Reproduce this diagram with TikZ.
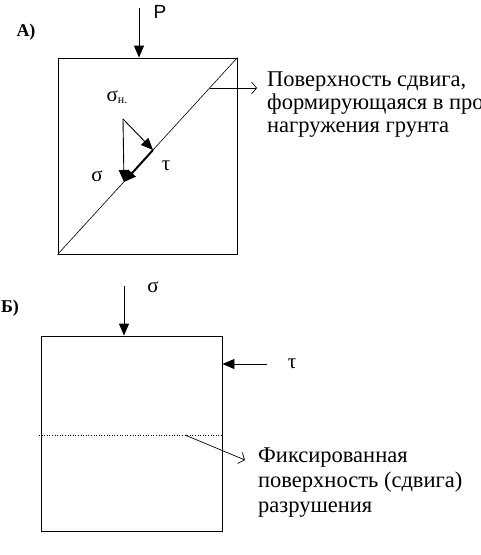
\documentclass[tikz,border=0pt]{standalone}
\usepackage{fontspec}
\setmainfont{Liberation Serif}
\newfontfamily\labelsans{Liberation Sans}
\usetikzlibrary{arrows.meta}

\begin{document}
\begin{tikzpicture}[x=1pt, y=-1pt,
  every node/.style={font=\fontsize{22.5}{23}\selectfont, inner sep=0pt},
  force/.style={-{Triangle[length=12pt,width=10pt]}, line width=0.9pt},
  pointer/.style={-{Straight Barb[length=5pt,width=12pt]}, line width=0.7pt},
  sample/.style={draw, line width=0.9pt},
  greek/.style={font=\fontsize{21}{21}\selectfont},
  partlabel/.style={font=\bfseries\fontsize{18}{20}\selectfont}]

\useasboundingbox (0,0) rectangle (481,555);

% Part A
\node[partlabel] (labA) at (26,32) {А)};
\node[sample, minimum width=179pt, minimum height=196pt] (boxA) at (147.5,156) {};
\draw[line width=0.6pt] (boxA.south west) -- (boxA.north east);

% points on the shear surface
\coordinate (sig) at (124,182);
\coordinate (sn) at (153,150);
\coordinate (hs) at (210,88);
\coordinate (apex) at (123,119);
\coordinate (pTop) at (139,8);
\coordinate (hsEnd) at (257,88);

\draw[force] (pTop) -- (pTop |- boxA.north);
\node[font=\labelsans\fontsize{19}{19}\selectfont] (pLab) at (160,12) {P};

\draw[force] (apex) -- (sig);
\draw[force] (apex) -- (sn);
\draw[force, line width=2pt] (sn) -- (sig);
\node[greek] (snLab) at (117,97) {σ\raisebox{-2pt}{\fontsize{12}{12}\selectfont н.}};
\node[greek] (sigLab) at (97,176) {σ};
\node[greek] (tauLab) at (166,166) {τ};

\draw[pointer] (hs) -- (hsEnd);
% last line sits on the base anchor
\node[anchor=base west, align=left] (textA) at (267,132)
  {Поверхность сдвига,\\формирующаяся в про\\нагружения грунта};

% Part B
\node[partlabel] (labB) at (10,308) {Б)};
\node[sample, minimum width=181pt, minimum height=195pt] (boxB) at (131.5,433.5) {};
\coordinate (sTop) at (124,286);
\coordinate (tRight) at (267,364);
\coordinate (fixL) at (39,435);
\coordinate (fixR) at (boxB.east |- fixL);
\coordinate (fixM) at (185,435);
\coordinate (fixEnd) at (245,460);

\draw[force] (sTop) -- (sTop |- boxB.north);
\node[greek] (sigB) at (153,287) {σ};
\draw[force] (tRight) -- (tRight -| boxB.east);
\node[greek] (tauB) at (292,364) {τ};

\draw[dotted, line width=0.6pt] (fixL) -- (fixR);
\draw[pointer] (fixM) -- (fixEnd);
\node[anchor=base west, align=left, font=\fontsize{22.5}{25}\selectfont] (textB) at (258,512)
  {Фиксированная\\поверхность (сдвига)\\разрушения};

\end{tikzpicture}
\end{document}
